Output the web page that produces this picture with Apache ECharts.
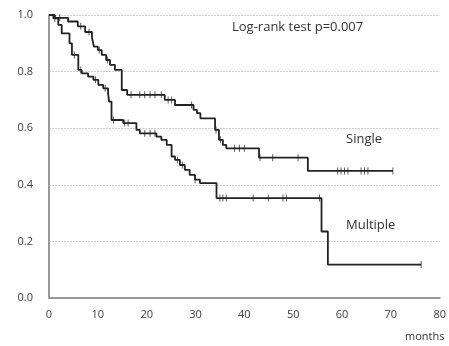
<!DOCTYPE html>
<html>
<head>
<meta charset="utf-8">
<script src="https://cdn.jsdelivr.net/npm/echarts@6/dist/echarts.min.js"></script>
<style>
  html, body { margin: 0; padding: 0; background: #fff; }
  #chart { width: 449px; height: 346px; }
</style>
</head>
<body>
<div id="chart"></div>
<script>
// survival curves, [months, survival]
var singleSteps = [
  [0, 1], [1.2, 0.99], [3.9, 0.977], [5.9, 0.96], [7.4, 0.94], [8.8, 0.92], [9.2, 0.888],
  [10, 0.876], [10.8, 0.859], [11.7, 0.841], [12.5, 0.824], [13.5, 0.806], [14.9, 0.735],
  [16, 0.718], [23.7, 0.70], [25.8, 0.682], [29.6, 0.665], [30.3, 0.653], [31, 0.635],
  [34, 0.594], [34.8, 0.559], [35.6, 0.541], [36.3, 0.529], [43, 0.496], [53, 0.449], [70.4, 0.449]
];
var multipleSteps = [
  [0, 1], [0.9, 0.988], [1.9, 0.965], [2.6, 0.935], [4.2, 0.90], [4.7, 0.859], [6.0, 0.806],
  [6.7, 0.794], [8.0, 0.782], [9.1, 0.771], [10.1, 0.753], [11.1, 0.741], [12.1, 0.723],
  [12.3, 0.694], [12.8, 0.629], [15.2, 0.618], [17.9, 0.594], [18.6, 0.582], [22, 0.570],
  [23, 0.559], [24.1, 0.541], [25.1, 0.50], [25.8, 0.488], [26.8, 0.47], [27.8, 0.453],
  [28.8, 0.435], [29.9, 0.418], [30.9, 0.406], [34.3, 0.353], [55.8, 0.235], [57.1, 0.118], [76.2, 0.118]
];
// censored observations
var singleCensor = [
  [2.2, 0.99], [6.5, 0.96], [8.2, 0.94], [10.3, 0.876], [12, 0.841], [16.8, 0.718],
  [18.6, 0.718], [19.6, 0.718], [20.7, 0.718], [21.7, 0.718], [23, 0.718], [24.4, 0.70],
  [25.1, 0.70], [29.2, 0.682], [34.2, 0.594], [35.1, 0.559], [38, 0.529], [39, 0.529],
  [40, 0.529], [43.2, 0.496], [45.8, 0.496], [51, 0.496], [59.1, 0.449], [59.8, 0.449],
  [60.5, 0.449], [61.2, 0.449], [63.9, 0.449], [64.6, 0.449], [65.3, 0.449], [70.4, 0.449]
];
var multipleCensor = [
  [1.2, 0.988], [5.2, 0.859], [6.5, 0.806], [9.5, 0.771], [11.5, 0.741], [13.2, 0.629],
  [15.5, 0.618], [16.2, 0.618], [19.6, 0.582], [20.7, 0.582], [21.7, 0.582], [26.3, 0.488],
  [27.3, 0.47], [29.9, 0.418], [35, 0.353], [35.6, 0.353], [36.3, 0.353], [41.8, 0.353],
  [44.9, 0.353], [47.9, 0.353], [48.6, 0.353], [55.4, 0.353], [76.2, 0.118]
];
var xTicks = [0, 10, 20, 30, 40, 50, 60, 70, 80];
var yTicks = [0, 0.2, 0.4, 0.6, 0.8, 1.0];

var chart = echarts.init(document.getElementById('chart'));
var font = '"Open Sans", sans-serif';
var option = {
  animation: false,
  grid: { left: 49, top: 15, width: 391, height: 283 },
  xAxis: {
    type: 'value', min: xTicks[0], max: xTicks[xTicks.length - 1], interval: 10,
    axisLine: { lineStyle: { color: '#999', width: 2 } },
    axisTick: { show: false },
    splitLine: { show: false },
    axisLabel: { color: '#404040', fontSize: 11, fontFamily: font, margin: 11 }
  },
  yAxis: {
    type: 'value', min: yTicks[0], max: yTicks[yTicks.length - 1], interval: 0.2,
    axisLine: { show: true, lineStyle: { color: '#999', width: 2 } },
    axisTick: { show: false },
    splitLine: { lineStyle: { color: '#cfcfcf', width: 1, type: [2, 1] } },
    axisLabel: {
      color: '#404040', fontSize: 11, fontFamily: font, margin: 16,
      formatter: function (v) { return v.toFixed(1); }
    }
  },
  series: [
    { type: 'line', step: 'end', data: singleSteps, symbol: 'none',
      lineStyle: { color: '#222', width: 1.8 } },
    { type: 'line', step: 'end', data: multipleSteps, symbol: 'none',
      lineStyle: { color: '#222', width: 1.8 } },
    { type: 'scatter', data: singleCensor, symbol: 'rect', symbolSize: [1, 7],
      itemStyle: { color: '#333' } },
    { type: 'scatter', data: multipleCensor, symbol: 'rect', symbolSize: [1, 7],
      itemStyle: { color: '#333' } }
  ],
  graphic: [
    { type: 'text', left: 232, top: 21,
      style: { text: 'Log-rank test p=0.007', fontSize: 13, fontFamily: font, fill: '#333' } },
    { type: 'text', left: 346, top: 133,
      style: { text: 'Single', fontSize: 13, fontFamily: font, fill: '#333' } },
    { type: 'text', left: 346, top: 219,
      style: { text: 'Multiple', fontSize: 13, fontFamily: font, fill: '#333' } },
    { type: 'text', left: 405, top: 331,
      style: { text: 'months', fontSize: 11, fontFamily: font, fill: '#333' } }
  ]
};
chart.setOption(option);
</script>
</body>
</html>
